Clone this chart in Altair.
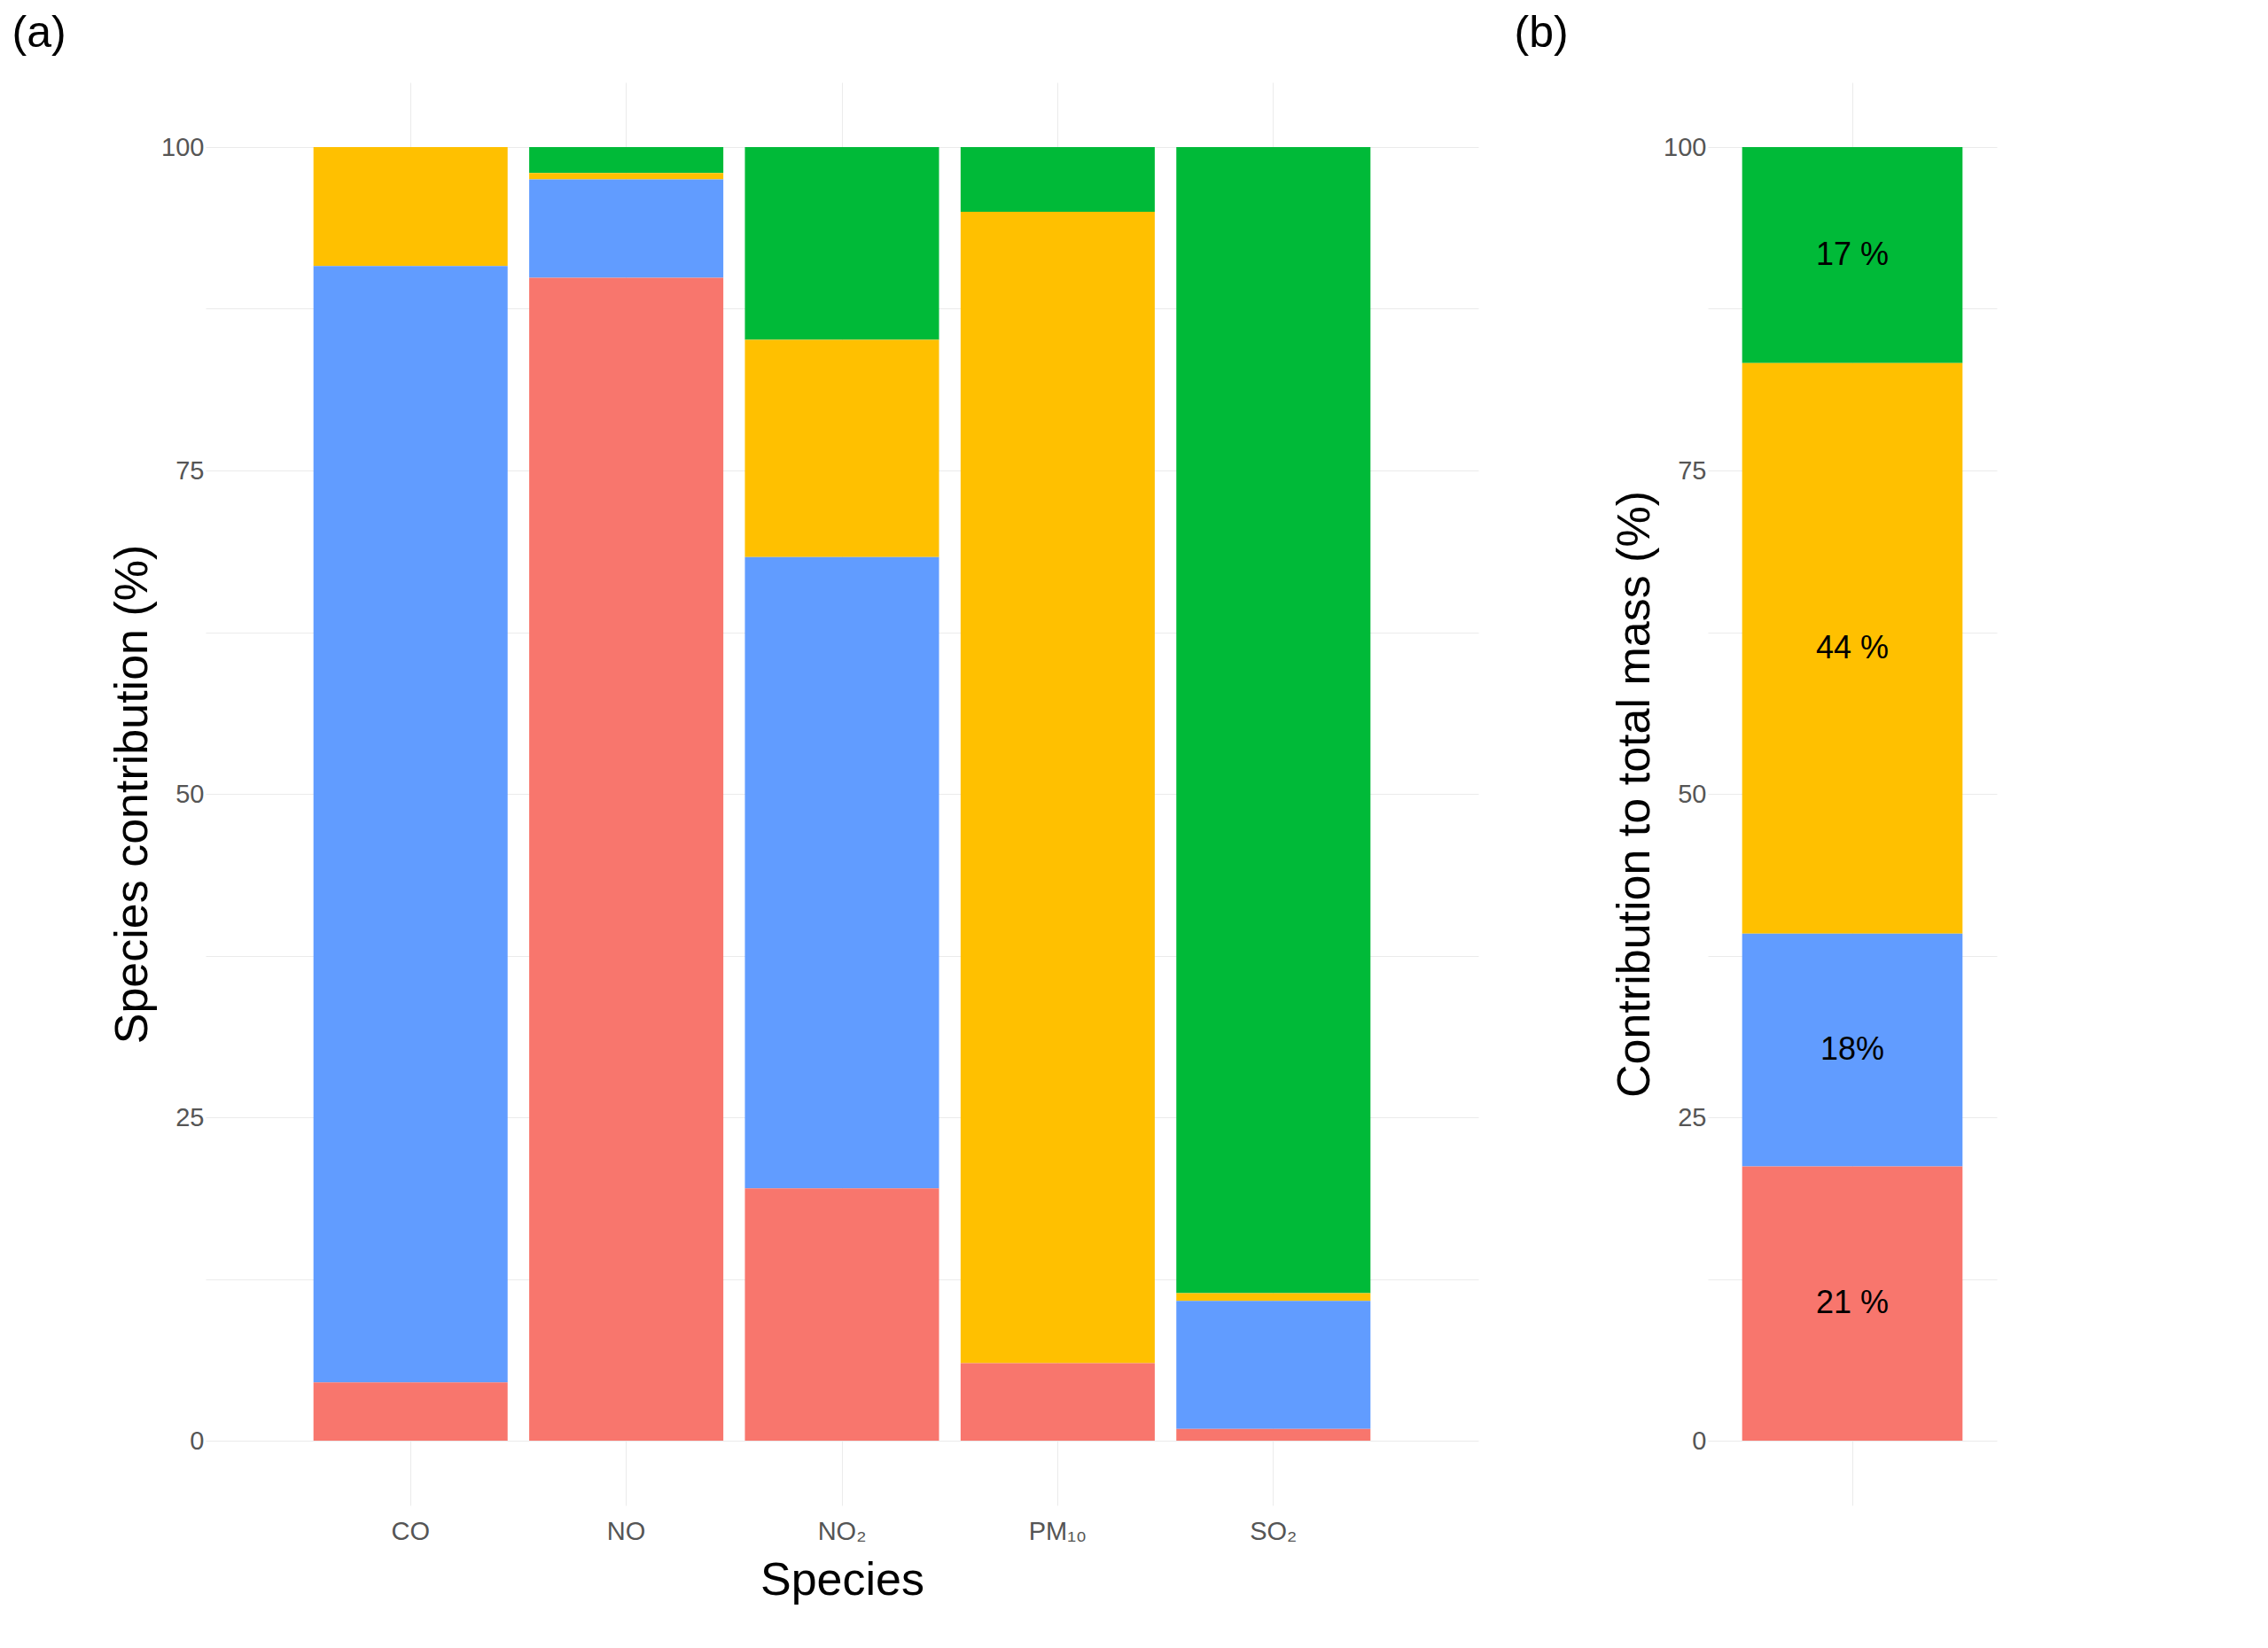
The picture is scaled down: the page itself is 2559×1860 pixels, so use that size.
import pandas as pd
import altair as alt

species = ["CO", "NO", "NO₂", "PM₁₀", "SO₂"]
factors = ["Factor 1", "Factor 2", "Factor 3", "Factor 4"]
colors = ["#00BA38", "#FFC000", "#619CFF", "#F8766D"]

# species contribution (%) per factor
factor1 = [0.0, 2.0, 14.9, 5.0, 88.6]
factor2 = [9.2, 0.5, 16.8, 89.0, 0.6]
factor3 = [86.3, 7.6, 48.8, 0.0, 9.9]
factor4 = [4.5, 89.9, 19.5, 6.0, 0.9]

# contribution to total mass (%)
mass = [16.7, 44.1, 18.0, 21.2]
mass_labels = ["17 %", "44 %", "18%", "21 %"]

rows = []
for f, vals in zip(factors, [factor1, factor2, factor3, factor4]):
    for s, v in zip(species, vals):
        rows.append({"species": s, "factor": f, "value": v, "rank": factors.index(f)})
df = pd.DataFrame(rows)
dfm = pd.DataFrame({"factor": factors, "value": mass, "label": mass_labels,
                    "rank": [0, 1, 2, 3], "x": ["all"] * 4})

color = alt.Color("factor:N", scale=alt.Scale(domain=factors, range=colors),
                  legend=alt.Legend(title=None, symbolType="square", symbolSize=900,
                                    labelFontSize=30, orient="right", offset=150,
                                    symbolStrokeWidth=0, rowPadding=4, padding=0))
grid_vals = [0, 12.5, 25, 37.5, 50, 62.5, 75, 87.5, 100]

def yaxis(title):
    return alt.Axis(values=grid_vals, labelExpr="datum.value % 25 == 0 ? datum.label : ''",
                    title=title, titleFontSize=52, titleFontWeight="normal",
                    labelFontSize=29, labelColor="#555", ticks=False, domain=False,
                    gridColor="#ebebeb", titlePadding=5)

left = alt.Chart(df).mark_bar().encode(
    x=alt.X("species:N", sort=species,
            scale=alt.Scale(paddingInner=0.1, paddingOuter=0.5),
            axis=alt.Axis(title="Species", titleFontSize=52, titleFontWeight="normal",
                          labelFontSize=29, labelColor="#555", labelAngle=0, ticks=False,
                          domain=False, grid=True, bandPosition=0.5, gridColor="#ebebeb",
                          labelPadding=15, titlePadding=15)),
    y=alt.Y("value:Q", stack="zero", scale=alt.Scale(domain=[-5, 105], nice=False),
            axis=yaxis("Species contribution (%)")),
    color=alt.Color("factor:N", scale=alt.Scale(domain=factors, range=colors), legend=None),
    order=alt.Order("rank:Q", sort="descending"),
).properties(width=1436, height=1606,
             title=alt.TitleParams("(a)", anchor="start", fontSize=50, fontWeight="normal",
                                   dx=-110, offset=30))

base = alt.Chart(dfm).transform_stack(
    stack="value", as_=["y0", "y1"], groupby=["x"], sort=[alt.SortField("rank", order="descending")]
).transform_calculate(mid="(datum.y0 + datum.y1) / 2")

bars = base.mark_bar().encode(
    x=alt.X("x:N", scale=alt.Scale(paddingInner=0.1, paddingOuter=0.14),
            axis=alt.Axis(title=None, labels=False, ticks=False, domain=False,
                          grid=True, bandPosition=0.5, gridColor="#ebebeb")),
    y=alt.Y("y0:Q", scale=alt.Scale(domain=[-5, 105], nice=False),
            axis=yaxis("Contribution to total mass (%)")),
    y2="y1:Q",
    color=color,
)
labels = base.mark_text(fontSize=36, color="black").encode(
    x="x:N", y="mid:Q", text="label:N")

right = (bars + labels).properties(
    width=326, height=1606,
    title=alt.TitleParams("(b)", anchor="start", fontSize=50, fontWeight="normal",
                          dx=-110, offset=30))

chart = alt.hconcat(left, right, spacing=40).configure(
    font="Helvetica, Liberation Sans, Arial", view=alt.ViewConfig(stroke=None),
    legend=alt.LegendConfig(orient="right"))
chart.save("out.html", embed_options={"renderer": "svg", "actions": False})
